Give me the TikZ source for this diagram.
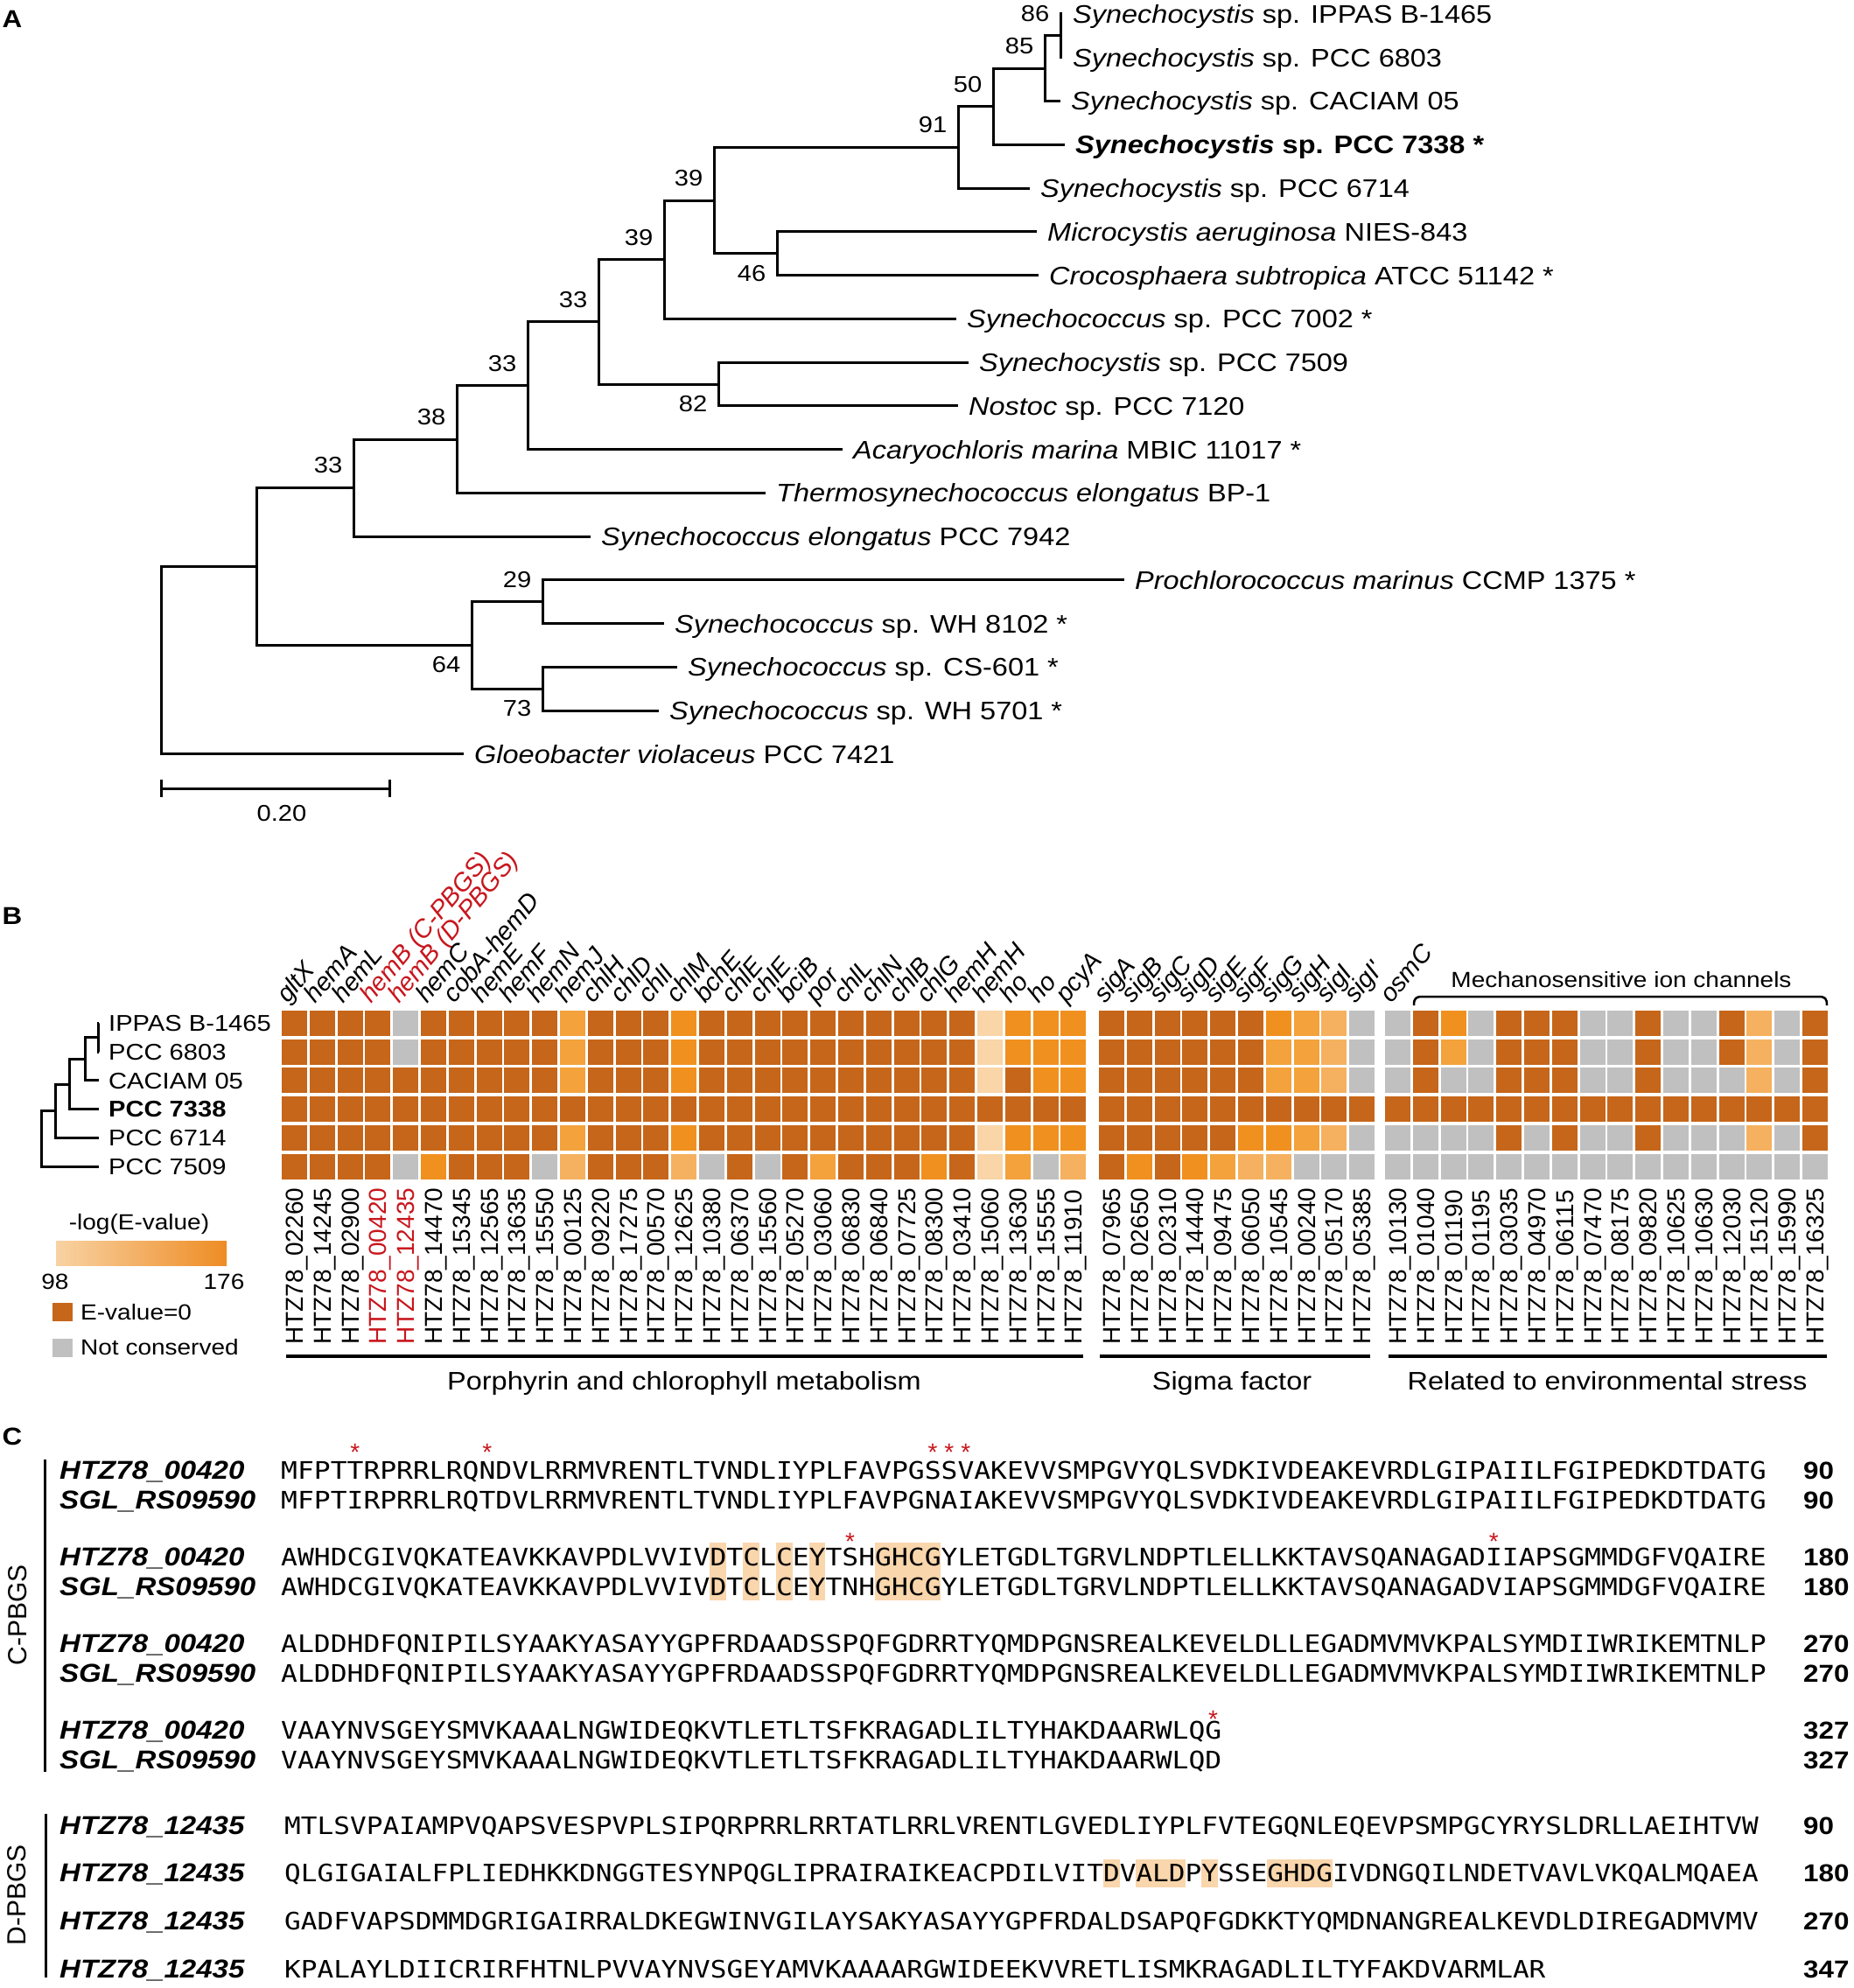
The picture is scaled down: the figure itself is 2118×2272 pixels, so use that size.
\documentclass[tikz,border=0pt]{standalone}
\usepackage{fontspec}
\setmainfont{Liberation Sans}[FakeStretch=1.12]
\newfontfamily\rotsans{Liberation Sans}
\newfontfamily\seqmono{DejaVu Sans Mono}[FakeStretch=1.136]
\usetikzlibrary{calc}
\definecolor{hm0}{RGB}{192,192,192}
\definecolor{hm1}{RGB}{249,213,168}
\definecolor{hm2}{RGB}{245,177,95}
\definecolor{hm3}{RGB}{243,162,60}
\definecolor{hm4}{RGB}{240,144,31}
\definecolor{hm5}{RGB}{198,102,26}
\definecolor{redlab}{RGB}{200,22,29}
\definecolor{motif}{RGB}{249,214,172}
\definecolor{gradlo}{RGB}{248,210,163}
\definecolor{gradhi}{RGB}{238,140,36}

\begin{document}
\begin{tikzpicture}[
        x=1pt, y=-1pt,
        c0/.style={fill=hm0}, c1/.style={fill=hm1}, c2/.style={fill=hm2},
        c3/.style={fill=hm3}, c4/.style={fill=hm4}, c5/.style={fill=hm5},
        branch/.style={line width=3pt},
        leaf/.style={anchor=west, xshift=12pt, inner sep=0pt, text height=20.8pt, text depth=0pt, font=\fontsize{29}{29}\selectfont},
        boot/.style={inner sep=0pt, text height=18.6pt, text depth=0pt, font=\fontsize{26}{26}\selectfont},
        bootup/.style={boot, xshift=-29pt, yshift=26pt},
        bootdn/.style={boot, xshift=-29pt, yshift=-22pt},
        panel/.style={inner sep=0pt, text height=20pt, text depth=0pt, font=\fontsize{28}{28}\selectfont\bfseries},
        strain/.style={anchor=west, xshift=11pt, inner sep=0pt, text height=18.6pt, text depth=0pt, font=\fontsize{26}{26}\selectfont},
        gene/.style={anchor=base west, rotate=50, inner sep=0pt, font=\rotsans\fontsize{29}{29}\selectfont\itshape},
        locus/.style={anchor=west, rotate=90, inner sep=0pt, text height=20pt, text depth=0pt, font=\rotsans\fontsize{28}{28}\selectfont},
        pbgs/.style={rotate=90, inner sep=0pt, text height=21.5pt, text depth=0pt, font=\rotsans\fontsize{30}{30}\selectfont},
        grouplab/.style={inner sep=0pt, text height=20.8pt, text depth=0pt, font=\fontsize{29}{29}\selectfont},
        legtext/.style={inner sep=0pt, text height=17.9pt, text depth=0pt, font=\fontsize{25}{25}\selectfont},
        seqname/.style={anchor=west, inner sep=0pt, text height=21pt, text depth=0pt, font=\fontsize{29.5}{29.5}\selectfont\bfseries\itshape},
        seqC/.style={anchor=west, inner sep=0pt, text height=20.1pt, text depth=0pt, font=\seqmono\fontsize{27.58}{27.58}\selectfont},
        seqD/.style={seqC, font=\seqmono\fontsize{27.37}{27.37}\selectfont},
        resnum/.style={anchor=west, inner sep=0pt, text height=20pt, text depth=0pt, font=\fontsize{28}{28}\selectfont\bfseries},
        sitestar/.style={anchor=base, inner sep=0pt, text=redlab, font=\rotsans\fontsize{28}{28}\selectfont},
        declare function={colx(\col)=(\col<30)*(322+31.8*(\col-1))+(\col>29)*(\col<40)*(1256+31.8*(\col-30))+(\col>39)*(1583+31.8*(\col-40));}
        ]
        \path[fill=white, use as bounding box] (0,0) rectangle (2118,2272);

        % ---------- A: tree
        \node[panel] (pA) at (14,22) {A};
        \coordinate (t1) at (1214,16);     \coordinate (t2) at (1214,65.8);
        \coordinate (t3) at (1212,115.5);  \coordinate (t4) at (1217,165.3);
        \coordinate (t5) at (1177,215.0);  \coordinate (t6) at (1185,264.8);
        \coordinate (t7) at (1187,314.6);  \coordinate (t8) at (1093,364.3);
        \coordinate (t9) at (1107,414.1);  \coordinate (t10) at (1095,463.8);
        \coordinate (t11) at (963,513.6);  \coordinate (t12) at (875,563.4);
        \coordinate (t13) at (675,613.1);  \coordinate (t14) at (1285,662.9);
        \coordinate (t15) at (759,712.6);  \coordinate (t16) at (774,762.4);
        \coordinate (t17) at (753,812.2);  \coordinate (t18) at (530,861.9);
        \coordinate (n86) at (1212,40.9);  \coordinate (n85) at (1194,78.2);
        \coordinate (n50) at (1135,121.8); \coordinate (n91) at (1095,168.4);
        \coordinate (n46) at (888,289.7);  \coordinate (n39a) at (816,229.0);
        \coordinate (n39b) at (759,296.7); \coordinate (n82) at (821,439.0);
        \coordinate (n33a) at (684,367.8); \coordinate (n33b) at (603,440.7);
        \coordinate (n38) at (522,502.1);  \coordinate (n33c) at (404,557.6);
        \coordinate (n29) at (620,687.8);  \coordinate (n73) at (620,787.3);
        \coordinate (n64) at (539,737.5);  \coordinate (nr1) at (293,647.6);
        \coordinate (nrt) at (184,754.7);
        \draw[branch]
          (n86) |- (t1) (n86) |- (t2)
          (n85) |- (n86) (n85) |- (t3)
          (n50) |- (n85) (n50) |- (t4)
          (n91) |- (n50) (n91) |- (t5)
          (n46) |- (t6) (n46) |- (t7)
          (n39a) |- (n91) (n39a) |- (n46)
          (n39b) |- (n39a) (n39b) |- (t8)
          (n82) |- (t9) (n82) |- (t10)
          (n33a) |- (n39b) (n33a) |- (n82)
          (n33b) |- (n33a) (n33b) |- (t11)
          (n38) |- (n33b) (n38) |- (t12)
          (n33c) |- (n38) (n33c) |- (t13)
          (n29) |- (t14) (n29) |- (t15)
          (n73) |- (t16) (n73) |- (t17)
          (n64) |- (n29) (n64) |- (n73)
          (nr1) |- (n33c) (nr1) |- (n64)
          (nrt) |- (nr1) (nrt) |- (t18);
        \node[leaf] (l1) at (t1) {\textit{Synechocystis} sp. IPPAS B-1465};
        \node[leaf] (l2) at (t2) {\textit{Synechocystis} sp. PCC 6803};
        \node[leaf] (l3) at (t3) {\textit{Synechocystis} sp. CACIAM 05};
        \node[leaf, font=\fontsize{29}{29}\selectfont\bfseries] (l4) at (t4) {\textit{Synechocystis} sp. PCC 7338 *};
        \node[leaf] (l5) at (t5) {\textit{Synechocystis} sp. PCC 6714};
        \node[leaf] (l6) at (t6) {\textit{Microcystis aeruginosa} NIES-843};
        \node[leaf] (l7) at (t7) {\textit{Crocosphaera subtropica} ATCC 51142 *};
        \node[leaf] (l8) at (t8) {\textit{Synechococcus} sp. PCC 7002 *};
        \node[leaf] (l9) at (t9) {\textit{Synechocystis} sp. PCC 7509};
        \node[leaf] (l10) at (t10) {\textit{Nostoc} sp. PCC 7120};
        \node[leaf] (l11) at (t11) {\textit{Acaryochloris marina} MBIC 11017 *};
        \node[leaf] (l12) at (t12) {\textit{Thermosynechococcus elongatus} BP-1};
        \node[leaf] (l13) at (t13) {\textit{Synechococcus elongatus} PCC 7942};
        \node[leaf] (l14) at (t14) {\textit{Prochlorococcus marinus} CCMP 1375 *};
        \node[leaf] (l15) at (t15) {\textit{Synechococcus} sp. WH 8102 *};
        \node[leaf] (l16) at (t16) {\textit{Synechococcus} sp. CS-601 *};
        \node[leaf] (l17) at (t17) {\textit{Synechococcus} sp. WH 5701 *};
        \node[leaf] (l18) at (t18) {\textit{Gloeobacter violaceus} PCC 7421};
        \node[bootup] (b86) at (n86) {86};
        \node[bootup] (b85) at (n85) {85};
        \node[bootup] (b50) at (n50) {50};
        \node[bootup] (b91) at (n91) {91};
        \node[bootup] (b39a) at (n39a) {39};
        \node[bootup] (b39b) at (n39b) {39};
        \node[bootup] (b33a) at (n33a) {33};
        \node[bootup] (b33b) at (n33b) {33};
        \node[bootup] (b38) at (n38) {38};
        \node[bootup] (b33c) at (n33c) {33};
        \node[bootup] (b29) at (n29) {29};
        \node[bootdn] (b46) at (n46) {46};
        \node[bootdn] (b82) at (n82) {82};
        \node[bootdn] (b64) at (n64) {64};
        \node[bootdn] (b73) at (n73) {73};
        % scale bar
        \coordinate (sb0) at (184,901);
        \coordinate (sb1) at (445,901);
        \draw[branch] (sb0) -- (sb1)
          ($(sb0)+(0,-10)$) -- ($(sb0)+(0,10)$)
          ($(sb1)+(0,-10)$) -- ($(sb1)+(0,10)$);
        \node[boot] (sblab) at (322,929) {0.20};

        % ---------- B: heat map
        \node[panel] (pB) at (14,1046) {B};
        \coordinate (p1) at (113,1169.5); \coordinate (p2) at (113,1202.2);
        \coordinate (p3) at (113,1234.9); \coordinate (p4) at (113,1267.6);
        \coordinate (p5) at (113,1300.3); \coordinate (p6) at (113,1333.0);
        \coordinate (q1) at (112,1185.9); \coordinate (q2) at (97,1210.4);
        \coordinate (q3) at (79,1239.0);  \coordinate (q4) at (63,1269.7);
        \coordinate (q5) at (47,1301.3);
        \draw[branch] (q1) |- (p1) (q1) |- (p2) (q2) |- (q1) (q2) |- (p3)
          (q3) |- (q2) (q3) |- (p4) (q4) |- (q3) (q4) |- (p5) (q5) |- (q4) (q5) |- (p6);
        \node[strain] (s1) at (p1) {IPPAS B-1465};
        \node[strain] (s2) at (p2) {PCC 6803};
        \node[strain] (s3) at (p3) {CACIAM 05};
        \node[strain, font=\fontsize{26}{26}\selectfont\bfseries] (s4) at (p4) {PCC 7338};
        \node[strain] (s5) at (p5) {PCC 6714};
        \node[strain] (s6) at (p6) {PCC 7509};

        \foreach \vals [count=\rr] in {
          {5,5,5,5,0,5,5,5,5,5,3,5,5,5,4,5,5,5,5,5,5,5,5,5,5,1,4,4,4,5,5,5,5,5,5,4,3,2,0,0,5,4,0,5,5,5,0,0,5,0,0,5,2,0,5},
          {5,5,5,5,0,5,5,5,5,5,3,5,5,5,4,5,5,5,5,5,5,5,5,5,5,1,4,4,4,5,5,5,5,5,5,3,3,2,0,0,5,3,0,5,5,5,0,0,5,0,0,5,2,0,5},
          {5,5,5,5,5,5,5,5,5,5,3,5,5,5,4,5,5,5,5,5,5,5,5,5,5,1,5,4,4,5,5,5,5,5,5,3,3,2,0,0,5,0,0,5,5,5,0,0,5,0,0,0,2,0,5},
          {5,5,5,5,5,5,5,5,5,5,5,5,5,5,5,5,5,5,5,5,5,5,5,5,5,5,5,5,5,5,5,5,5,5,5,5,5,5,5,5,5,5,5,5,5,5,5,5,5,5,5,5,5,5,5},
          {5,5,5,5,5,5,5,5,5,5,3,5,5,5,4,5,5,5,5,5,5,5,5,5,5,1,4,4,4,5,5,5,5,5,4,4,3,2,0,0,0,0,0,5,0,5,0,0,5,0,0,0,2,0,5},
          {5,5,5,5,0,4,5,5,5,0,2,5,5,5,2,0,5,0,5,3,5,5,5,4,5,1,3,0,2,5,4,5,4,3,2,2,0,0,0,0,0,0,0,0,0,0,0,0,0,0,0,0,0,0,0}}{
          \foreach \val [count=\cc] in \vals
            \fill[c\val] ({colx(\cc)},{1155+32.7*(\rr-1)}) rectangle ++(29,29);
        }

        % gene names
        \foreach \gn [count=\cc] in {gltX,hemA,hemL,{\textcolor{redlab}{hemB (C-PBGS)}},{\textcolor{redlab}{hemB (D-PBGS)}},hemC,cobA-hemD,hemE,hemF,hemN,hemJ,chlH,chlD,chlI,chlM,bchE,chlE,chlE,bciB,por,chlL,chlN,chlB,chlG,hemH,hemH,ho,ho,pcyA,sigA,sigB,sigC,sigD,sigE,sigF,sigG,sigH,sigI,sigI',osmC}
          \node[gene] (g\cc) at ({colx(\cc)+7},1148) {\gn};
        % locus tags
        \foreach \lt [count=\cc] in {02260,14245,02900,00420,12435,14470,15345,12565,13635,15550,00125,09220,17275,00570,12625,10380,06370,15560,05270,03060,06830,06840,07725,08300,03410,15060,13630,15555,11910,07965,02650,02310,14440,09475,06050,10545,00240,05170,05385,10130,01040,01190,01195,03035,04970,06115,07470,08175,09820,10625,10630,12030,15120,15990,16325}{
          \ifnum\cc=4 \def\lc{redlab}\else\ifnum\cc=5 \def\lc{redlab}\else\def\lc{black}\fi\fi
          \node[locus, text=\lc] (k\cc) at ({colx(\cc)+14.5},1537) {HTZ78\_\lt};
        }
        \draw[line width=2.5pt] (1616,1149) .. controls (1616,1141) and (1618,1139) .. (1626,1139)
          -- (2078,1139) .. controls (2086,1139) and (2088,1141) .. (2088,1149);
        \node[grouplab, font=\fontsize{25}{25}\selectfont, text height=17.9pt] (mech) at (1853,1120) {Mechanosensitive ion channels};
        \draw[line width=4pt] (327,1550) -- (1238,1550);
        \draw[line width=4pt] (1257,1550) -- (1566,1550);
        \draw[line width=4pt] (1587,1550) -- (2088,1550);
        \node[grouplab] (grp1) at (782,1578) {Porphyrin and chlorophyll metabolism};
        \node[grouplab] (grp2) at (1408,1578) {Sigma factor};
        \node[grouplab] (grp3) at (1837,1578) {Related to environmental stress};
        % legend
        \node[legtext] (legt) at (159,1397) {-log(E-value)};
        \shade[left color=gradlo, right color=gradhi] (64,1418) rectangle (259,1446);
        \node[legtext] (leglo) at (63,1465) {98};
        \node[legtext] (leghi) at (256,1465) {176};
        \fill[c5] (60,1489) rectangle (83,1510);
        \node[legtext, anchor=west] (legd) at (92,1500) {E-value=0};
        \fill[c0] (60,1530) rectangle (83,1551);
        \node[legtext, anchor=west] (legg) at (92,1540) {Not conserved};

        % ---------- C: alignments
        \node[panel] (pC) at (14,1641) {C};
        \draw[line width=3pt] (51,1668) -- (51,2025);
        \draw[line width=3pt] (52,2073) -- (52,2260);
        \node[pbgs] (cpbgs) at (20,1846) {C-PBGS};
        \node[pbgs] (dpbgs) at (19,2166) {D-PBGS};
        \foreach \i/\n in {26/1,28/1,30/1,32/1,36/4}
          \fill[motif] ({321+18.86*\i},1763) rectangle ++({18.86*\n},66);
        \foreach \i/\n in {50/1,52/3,56/1,60/4}
          \fill[motif] ({325+18.72*\i},2125) rectangle ++({18.72*\n},32);
        \foreach \i in {4,12,39,40,41}
          \node[sitestar] at ({321+18.86*(\i+0.5)},1669) {*};
        \foreach \i in {34,73}
          \node[sitestar] at ({321+18.86*(\i+0.5)},1771) {*};
        \node[sitestar] (st4) at ({321+18.86*56.5},1974) {*};

        \node[seqname] (nC1a) at (68,1680) {HTZ78\_00420};
        \node[seqname] (nC1b) at (68,1714) {SGL\_RS09590};
        \node[seqname] (nC2a) at (68,1779) {HTZ78\_00420};
        \node[seqname] (nC2b) at (68,1813) {SGL\_RS09590};
        \node[seqname] (nC3a) at (68,1878) {HTZ78\_00420};
        \node[seqname] (nC3b) at (68,1912) {SGL\_RS09590};
        \node[seqname] (nC4a) at (68,1977) {HTZ78\_00420};
        \node[seqname] (nC4b) at (68,2011) {SGL\_RS09590};
        \node[seqC] (sC1a) at (321,1680) {MFPTTRPRRLRQNDVLRRMVRENTLTVNDLIYPLFAVPGSSVAKEVVSMPGVYQLSVDKIVDEAKEVRDLGIPAIILFGIPEDKDTDATG};
        \node[seqC] (sC1b) at (321,1714) {MFPTIRPRRLRQTDVLRRMVRENTLTVNDLIYPLFAVPGNAIAKEVVSMPGVYQLSVDKIVDEAKEVRDLGIPAIILFGIPEDKDTDATG};
        \node[seqC] (sC2a) at (321,1779) {AWHDCGIVQKATEAVKKAVPDLVVIVDTCLCEYTSHGHCGYLETGDLTGRVLNDPTLELLKKTAVSQANAGADIIAPSGMMDGFVQAIRE};
        \node[seqC] (sC2b) at (321,1813) {AWHDCGIVQKATEAVKKAVPDLVVIVDTCLCEYTNHGHCGYLETGDLTGRVLNDPTLELLKKTAVSQANAGADVIAPSGMMDGFVQAIRE};
        \node[seqC] (sC3a) at (321,1878) {ALDDHDFQNIPILSYAAKYASAYYGPFRDAADSSPQFGDRRTYQMDPGNSREALKEVELDLLEGADMVMVKPALSYMDIIWRIKEMTNLP};
        \node[seqC] (sC3b) at (321,1912) {ALDDHDFQNIPILSYAAKYASAYYGPFRDAADSSPQFGDRRTYQMDPGNSREALKEVELDLLEGADMVMVKPALSYMDIIWRIKEMTNLP};
        \node[seqC] (sC4a) at (321,1977) {VAAYNVSGEYSMVKAAALNGWIDEQKVTLETLTSFKRAGADLILTYHAKDAARWLQG};
        \node[seqC] (sC4b) at (321,2011) {VAAYNVSGEYSMVKAAALNGWIDEQKVTLETLTSFKRAGADLILTYHAKDAARWLQD};
        \node[resnum] (rC1a) at (2061,1680) {90};
        \node[resnum] (rC1b) at (2061,1714) {90};
        \node[resnum] (rC2a) at (2061,1779) {180};
        \node[resnum] (rC2b) at (2061,1813) {180};
        \node[resnum] (rC3a) at (2061,1878) {270};
        \node[resnum] (rC3b) at (2061,1912) {270};
        \node[resnum] (rC4a) at (2061,1977) {327};
        \node[resnum] (rC4b) at (2061,2011) {327};

        \node[seqname] (nD1) at (68,2086) {HTZ78\_12435};
        \node[seqname] (nD2) at (68,2140) {HTZ78\_12435};
        \node[seqname] (nD3) at (68,2195) {HTZ78\_12435};
        \node[seqname] (nD4) at (68,2250) {HTZ78\_12435};
        \node[seqD] (sD1) at (325,2086) {MTLSVPAIAMPVQAPSVESPVPLSIPQRPRRLRRTATLRRLVRENTLGVEDLIYPLFVTEGQNLEQEVPSMPGCYRYSLDRLLAEIHTVW};
        \node[seqD] (sD2) at (325,2140) {QLGIGAIALFPLIEDHKKDNGGTESYNPQGLIPRAIRAIKEACPDILVITDVALDPYSSEGHDGIVDNGQILNDETVAVLVKQALMQAEA};
        \node[seqD] (sD3) at (325,2195) {GADFVAPSDMMDGRIGAIRRALDKEGWINVGILAYSAKYASAYYGPFRDALDSAPQFGDKKTYQMDNANGREALKEVDLDIREGADMVMV};
        \node[seqD] (sD4) at (325,2250) {KPALAYLDIICRIRFHTNLPVVAYNVSGEYAMVKAAAARGWIDEEKVVRETLISMKRAGADLILTYFAKDVARMLAR};
        \node[resnum] (rD1) at (2061,2086) {90};
        \node[resnum] (rD2) at (2061,2140) {180};
        \node[resnum] (rD3) at (2061,2195) {270};
        \node[resnum] (rD4) at (2061,2250) {347};
\end{tikzpicture}
\end{document}
